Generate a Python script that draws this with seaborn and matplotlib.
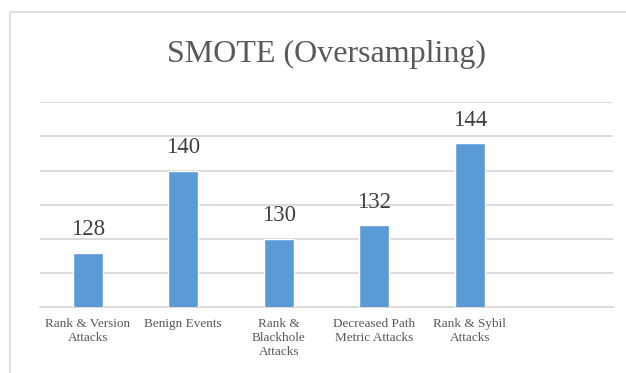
import matplotlib
matplotlib.use("Agg")
import matplotlib.pyplot as plt
import seaborn as sns
import pandas as pd
from matplotlib.patches import Rectangle

# Chart data
categories = [
    "Rank & Version\nAttacks",
    "Benign Events",
    "Rank &\nBlackhole\nAttacks",
    "Decreased Path\nMetric Attacks",
    "Rank & Sybil\nAttacks",
]
values = [128, 140, 130, 132, 144]
y_ticks = [120, 125, 130, 135, 140, 145, 150]

df = pd.DataFrame({"category": categories, "value": values})

sns.set_theme(style="white")
plt.rcParams["font.family"] = ["Liberation Serif", "DejaVu Serif"]

W, H, DPI = 626, 373, 100
fig = plt.figure(figsize=(W / DPI, H / DPI), dpi=DPI)

# Axes placement in pixel terms
left, right, top, bottom = 40, 613, 102.3, 307.3
ax = fig.add_axes([left / W, 1 - bottom / H, (right - left) / W, (bottom - top) / H])

bar_color = "#5B9BD5"
grid_color = "#D9D9D9"
text_color = "#595959"

sns.barplot(data=df, x="category", y="value", order=categories,
            color=bar_color, width=0.31, saturation=1, ax=ax, zorder=3)

ax.set_xlim(-0.5, 5.5)
ax.set_ylim(y_ticks[0], y_ticks[-1])
ax.set_yticks(y_ticks)
ax.yaxis.grid(True, color=grid_color, linewidth=1.3, zorder=0)
ax.set_axisbelow(True)
ax.tick_params(axis="y", length=0, labelleft=False)
ax.tick_params(axis="x", length=0, pad=8)
for lbl in ax.get_xticklabels():
    lbl.set_fontsize(9.5)
    lbl.set_color(text_color)
    lbl.set_linespacing(1.22)
ax.set_xlabel("")
ax.set_ylabel("")
for side in ["top", "right", "left"]:
    ax.spines[side].set_visible(False)
ax.spines["bottom"].set_color(grid_color)
ax.spines["bottom"].set_linewidth(1.3)

for container in ax.containers:
    ax.bar_label(container, labels=[str(v) for v in values], padding=9,
                 fontsize=16.5, color="#404040")

fig.text(326.5 / W, 1 - 61.7 / H, "SMOTE (Oversampling)", ha="center",
         va="baseline", fontsize=23, color=text_color)

# Outer chart frame
fig.patches.append(Rectangle((9.5 / W, -0.1), 1.0, 1 - 12 / H + 0.1,
                             transform=fig.transFigure, fill=False,
                             edgecolor=grid_color, linewidth=1.2))

fig.savefig("out.png", dpi=DPI, facecolor="white")
